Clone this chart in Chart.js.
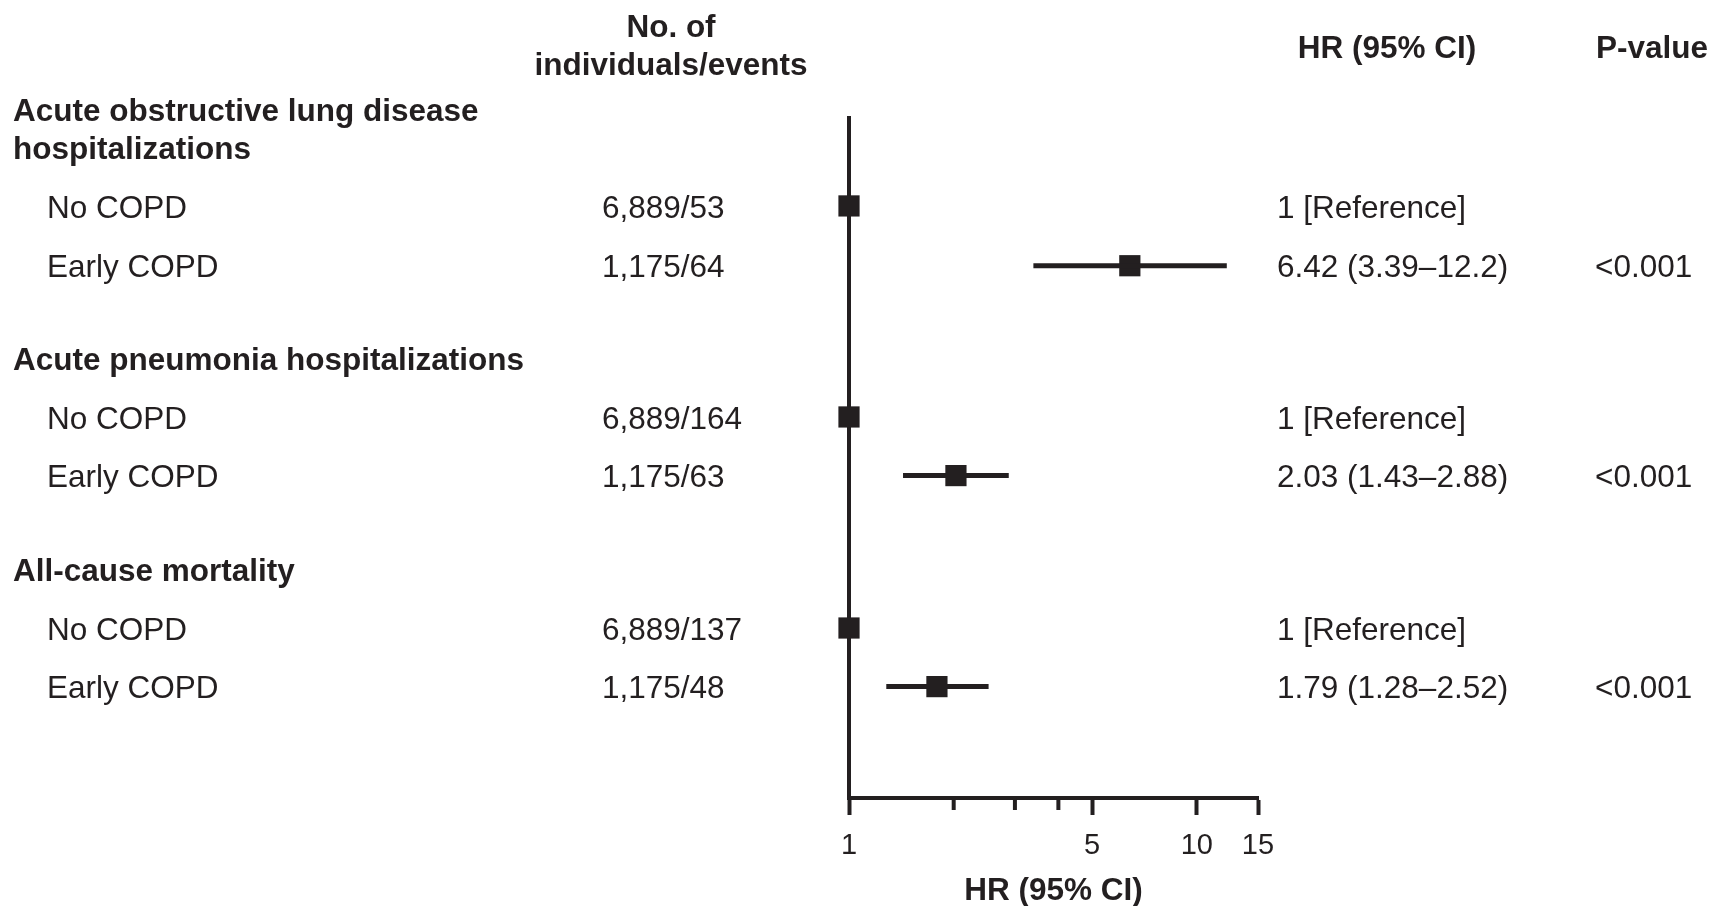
<!DOCTYPE html>
<html lang="en">
<head>
    <meta charset="UTF-8">
    <title>Early COPD outcomes forest plot</title>
    <style>
        body {
            margin: 0;
            background: #fff;
        }
        #forest {
            display: block;
        }
    </style>
    <script src="https://cdn.jsdelivr.net/npm/chart.js"></script>
</head>
<body>
    <canvas id="forest" width="1713" height="906"></canvas>

    <script>
        // ---- data ----
        const groupTitles = [
            ['Acute obstructive lung disease', 'hospitalizations'],
            ['Acute pneumonia hospitalizations'],
            ['All-cause mortality']
        ];
        const groupPos = [0.5, 4.1, 7.7];   // row position of last title line

        const rowLabels = ['No COPD', 'Early COPD', 'No COPD', 'Early COPD', 'No COPD', 'Early COPD'];
        const rowPos = [1.5, 2.52, 5.1, 6.1, 8.7, 9.7];
        const counts = ['6,889/53', '1,175/64', '6,889/164', '1,175/63', '6,889/137', '1,175/48'];
        const hr = [1, 6.42, 1, 2.03, 1, 1.79];
        const ciLow = [null, 3.39, null, 1.43, null, 1.28];
        const ciHigh = [null, 12.2, null, 2.88, null, 2.52];
        const hrText = ['1 [Reference]', '6.42 (3.39\u201312.2)', '1 [Reference]',
                        '2.03 (1.43\u20132.88)', '1 [Reference]', '1.79 (1.28\u20132.52)'];
        const pValues = ['', '<0.001', '', '<0.001', '', '<0.001'];

        const majorTicks = [1, 5, 10, 15];
        const minorTicks = [2, 3, 4];

        const ink = '#231f20';
        const fontFamily = '"Liberation Sans", Arial, sans-serif';
        const textShift = 3; // canvas 'middle' sits a little high for this font

        // one line dataset per confidence interval
        const ciSets = [];
        hr.forEach((v, i) => {
            if (ciLow[i] === null) return;
            ciSets.push({
                type: 'line',
                data: [{ x: ciLow[i], y: rowPos[i] }, { x: ciHigh[i], y: rowPos[i] }],
                borderColor: ink,
                borderWidth: 5,
                pointRadius: 0,
                clip: false
            });
        });

        // text columns drawn next to the plot
        const tablePlugin = {
            id: 'tableText',
            afterDraw(chart) {
                const ctx = chart.ctx;
                const yScale = chart.scales.y;
                const xScale = chart.scales.x;
                const area = chart.chartArea;
                ctx.save();
                ctx.fillStyle = ink;
                ctx.textBaseline = 'middle';

                // short minor ticks
                ctx.strokeStyle = ink;
                ctx.lineWidth = 4;
                minorTicks.forEach(v => {
                    const x = xScale.getPixelForValue(v);
                    ctx.beginPath();
                    ctx.moveTo(x, area.bottom);
                    ctx.lineTo(x, area.bottom + 12);
                    ctx.stroke();
                });

                // column headers
                ctx.font = 'bold 31.5px ' + fontFamily;
                ctx.textAlign = 'center';
                ctx.fillText('No. of', 671, 25 + textShift);
                ctx.fillText('individuals/events', 671, 63 + textShift);
                ctx.fillText('HR (95% CI)', 1387, 46 + textShift);
                ctx.textAlign = 'left';
                ctx.fillText('P-value', 1596, 46 + textShift);

                // group titles
                groupTitles.forEach((lines, g) => {
                    const yLast = yScale.getPixelForValue(groupPos[g]) + textShift;
                    lines.forEach((t, k) => {
                        ctx.fillText(t, 13, yLast - (lines.length - 1 - k) * 37.5);
                    });
                });

                // rows
                ctx.font = '31.5px ' + fontFamily;
                rowLabels.forEach((lab, i) => {
                    const y = yScale.getPixelForValue(rowPos[i]) + textShift;
                    ctx.fillText(lab, 47, y);
                    ctx.fillText(counts[i], 602, y);
                    ctx.fillText(hrText[i], 1277, y);
                    ctx.fillText(pValues[i], 1595, y);
                });
                ctx.restore();
            }
        };

        new Chart(document.getElementById('forest'), {
            type: 'scatter',
            data: {
                datasets: [
                    ...ciSets,
                    {
                        type: 'scatter',
                        data: hr.map((v, i) => ({ x: v, y: rowPos[i] })),
                        pointStyle: 'rect',
                        pointRadius: 15,
                        pointBackgroundColor: ink,
                        pointBorderColor: ink,
                        pointBorderWidth: 0,
                        clip: false
                    }
                ]
            },
            options: {
                responsive: false,
                animation: false,
                events: [],
                layout: {
                    padding: { left: 849, right: 455, top: 118, bottom: 0 }
                },
                plugins: {
                    legend: { display: false },
                    tooltip: { enabled: false }
                },
                scales: {
                    x: {
                        type: 'logarithmic',
                        position: 'bottom',
                        min: 1,
                        max: 15,
                        afterBuildTicks: scale => {
                            scale.ticks = majorTicks.map(v => ({ value: v }));
                        },
                        afterFit: scale => { scale.height = 108; },
                        ticks: {
                            autoSkip: false,
                            maxRotation: 0,
                            padding: 14,
                            color: ink,
                            font: { family: fontFamily, size: 29 },
                            callback: v => String(v)
                        },
                        grid: {
                            display: true,
                            drawOnChartArea: false,
                            drawTicks: true,
                            tickLength: 17,
                            tickWidth: 4,
                            tickColor: ink
                        },
                        border: { display: true, color: ink, width: 4 },
                        title: {
                            display: true,
                            text: 'HR (95% CI)',
                            color: ink,
                            padding: { top: 0, bottom: 0 },
                            font: { family: fontFamily, size: 31.5, weight: 'bold', lineHeight: 0.96 }
                        }
                    },
                    y: {
                        type: 'linear',
                        min: 0,
                        max: 11.6,
                        reverse: true,
                        afterFit: scale => { scale.width = 0; },
                        ticks: { display: false },
                        grid: { display: false },
                        border: { display: true, color: ink, width: 4 }
                    }
                }
            },
            plugins: [tablePlugin]
        });
    </script>
</body>
</html>
